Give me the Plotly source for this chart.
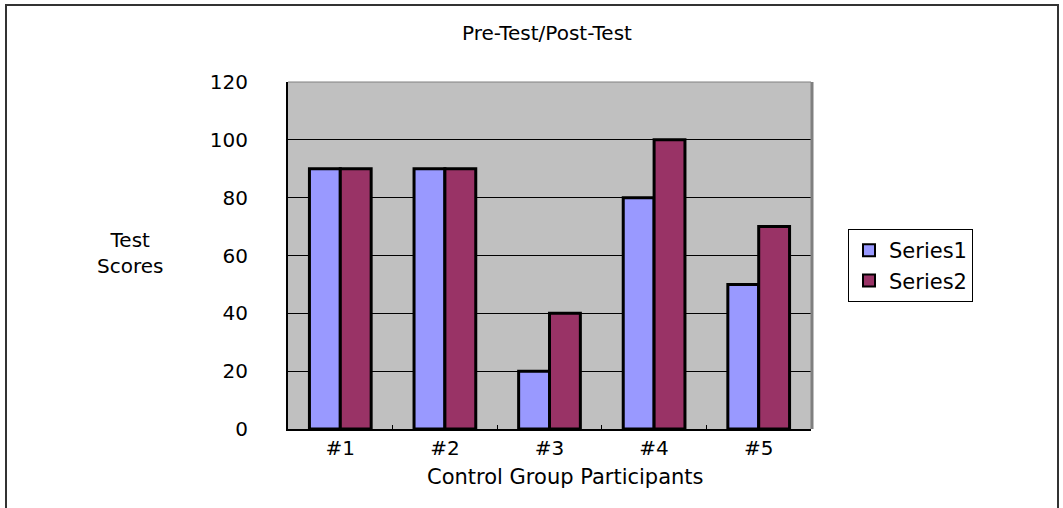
import plotly.graph_objects as go

categories = ["#1", "#2", "#3", "#4", "#5"]
series1 = [90, 90, 20, 80, 50]
series2 = [90, 90, 40, 100, 70]
y_ticks = [0, 20, 40, 60, 80, 100, 120]

FONT = "DejaVu Sans, Liberation Sans, Arial"
W, H = 1063, 508
L, R, T, B = 288, 811, 82, 429

fig = go.Figure()
fig.add_trace(go.Bar(name="Series1", x=categories, y=series1,
                     marker=dict(color="#9999FF", line=dict(color="black", width=3))))
fig.add_trace(go.Bar(name="Series2", x=categories, y=series2,
                     marker=dict(color="#993366", line=dict(color="black", width=3))))

def px_x(x):
    return (x - L) / (R - L)

def px_y(y):
    return (B - y) / (B - T)

fig.update_layout(
    width=W, height=H,
    margin=dict(l=L, r=W - R, t=T, b=H - B, pad=0),
    paper_bgcolor="white",
    plot_bgcolor="#C0C0C0",
    barmode="group", bargap=0.41, bargroupgap=0,
    font=dict(family=FONT, size=19, color="black"),
    showlegend=True,
    legend=dict(x=px_x(848), y=px_y(229), xanchor="left", yanchor="top",
                bgcolor="white", bordercolor="black", borderwidth=1,
                font=dict(size=21, family=FONT), tracegroupgap=0,
                itemsizing="constant"),
    xaxis=dict(showgrid=False, showline=True, linecolor="black", linewidth=2,
               ticks="inside", tickson="boundaries", ticklen=4, tickcolor="black",
               tickfont=dict(size=20), ticklabelstandoff=0),
    yaxis=dict(range=[0, 120], tickvals=y_ticks, showgrid=True, gridcolor="black",
               gridwidth=1, showline=True, linecolor="black", linewidth=2,
               tickfont=dict(size=20), ticklabelstandoff=34, zeroline=False),
)

annotations = [
    dict(text="Pre-Test/Post-Test", x=px_x(547), y=px_y(33), xref="paper", yref="paper",
         xanchor="center", yanchor="middle",
         showarrow=False, font=dict(size=20, family=FONT)),
    dict(text="Control Group Participants", x=px_x(565), y=px_y(477), xref="paper", yref="paper",
         xanchor="center", yanchor="middle",
         showarrow=False, font=dict(size=21, family=FONT)),
    dict(text="Test<br>Scores", x=px_x(130), y=px_y(253), xref="paper", yref="paper",
         xanchor="center", yanchor="middle",
         showarrow=False, font=dict(size=20, family=FONT), align="center"),
]
fig.update_layout(annotations=annotations)

shapes = [
    # outer chart border
    dict(type="rect", xref="paper", yref="paper", x0=px_x(6), x1=px_x(1058),
         y0=px_y(5), y1=px_y(540), line=dict(color="#333333", width=2), layer="below"),
    # plot area right shading
    dict(type="line", xref="paper", yref="paper", x0=px_x(R + 1), x1=px_x(R + 1),
         y0=0, y1=1, line=dict(color="#808080", width=3)),
    # top border
    dict(type="line", xref="paper", yref="paper", x0=0, x1=1,
         y0=1, y1=1, line=dict(color="#808080", width=1)),
]
fig.update_layout(shapes=shapes)

fig.write_html("out.html", config={"displayModeBar": False},
               post_script="document.body.style.margin='0';document.body.style.overflow='hidden';")
